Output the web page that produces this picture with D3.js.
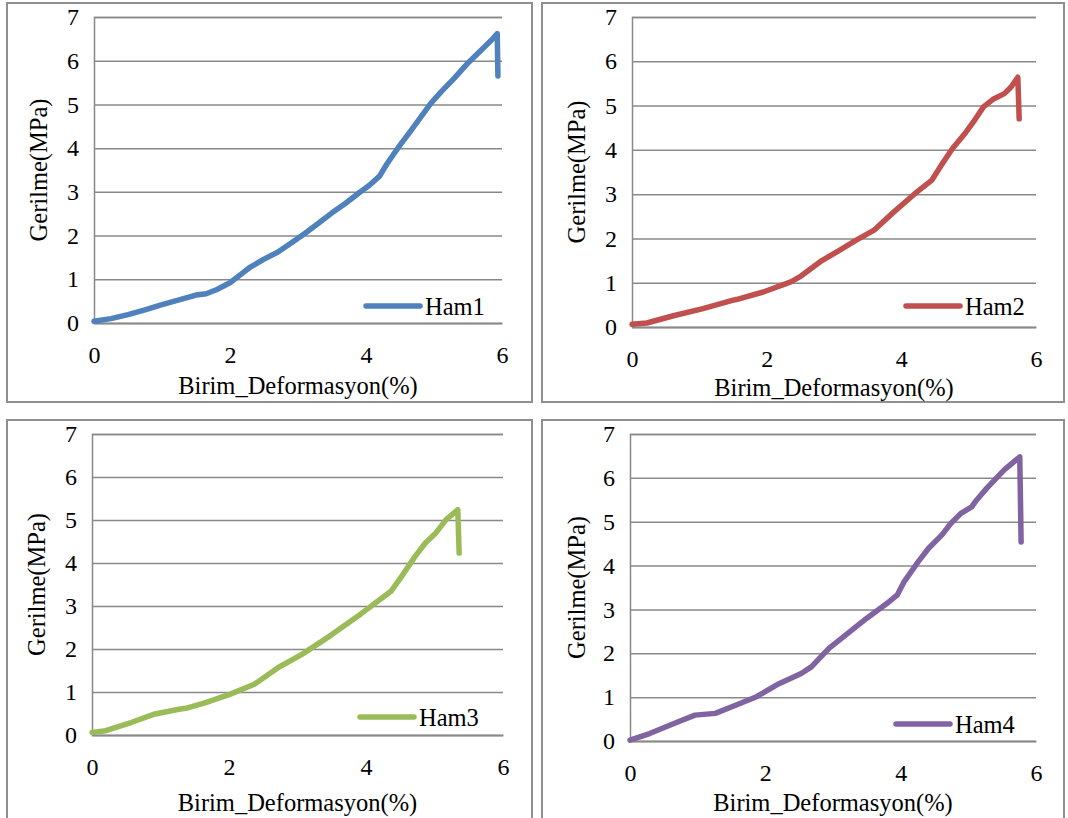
<!DOCTYPE html>
<html>
<head>
<meta charset="utf-8">
<script src="https://cdn.jsdelivr.net/npm/d3@7"></script>
<style>
  html, body { margin: 0; padding: 0; background: #ffffff; }
  svg { display: block; }
  text { font-family: "Liberation Serif", "DejaVu Serif", serif; fill: #000; }
</style>
</head>
<body>
<svg id="chart" width="1068" height="818"></svg>
<script>
// ---------- DATA ----------
const xTicks = [0, 2, 4, 6];
const yTicks = [0, 1, 2, 3, 4, 5, 6, 7];
const xTitle = "Birim_Deformasyon(%)";
const yTitle = "Gerilme(MPa)";
const seriesNames = ["Ham1", "Ham2", "Ham3", "Ham4"];
const seriesColors = ["#4F81BD", "#C0504D", "#9BBB59", "#8064A2"];

const ham1Strain = [0, 0.25, 0.5, 0.75, 1.0, 1.25, 1.5, 1.65, 1.8, 2.0, 2.15, 2.3, 2.5, 2.7, 2.9, 3.1, 3.3, 3.5, 3.7, 3.9, 4.05, 4.2, 4.3, 4.4, 4.5, 4.65, 4.8, 4.95, 5.1, 5.3, 5.5, 5.7, 5.85, 5.93, 5.94];
const ham1Stress = [0.04, 0.1, 0.19, 0.3, 0.42, 0.53, 0.64, 0.67, 0.76, 0.92, 1.1, 1.28, 1.46, 1.62, 1.83, 2.05, 2.28, 2.52, 2.74, 2.98, 3.15, 3.36, 3.62, 3.85, 4.07, 4.38, 4.7, 5.02, 5.28, 5.6, 5.95, 6.25, 6.48, 6.62, 5.65];

const ham2Strain = [0, 0.22, 0.63, 1.04, 1.49, 1.55, 1.95, 2.36, 2.49, 2.82, 3.08, 3.33, 3.59, 3.89, 4.2, 4.45, 4.61, 4.76, 4.96, 5.07, 5.22, 5.37, 5.53, 5.63, 5.73, 5.75];
const ham2Stress = [0.06, 0.09, 0.26, 0.41, 0.6, 0.62, 0.79, 1.02, 1.13, 1.5, 1.73, 1.96, 2.18, 2.6, 3.01, 3.31, 3.69, 4.03, 4.4, 4.63, 4.97, 5.15, 5.27, 5.42, 5.64, 4.7];

const ham3Strain = [0, 0.2, 0.57, 0.92, 1.27, 1.37, 1.67, 2.02, 2.37, 2.72, 3.07, 3.47, 3.92, 4.17, 4.37, 4.52, 4.72, 4.87, 5.02, 5.17, 5.34, 5.36];
const ham3Stress = [0.06, 0.1, 0.29, 0.49, 0.6, 0.62, 0.76, 0.95, 1.18, 1.57, 1.88, 2.3, 2.81, 3.11, 3.35, 3.69, 4.16, 4.47, 4.7, 5.01, 5.24, 4.23];

const ham4Strain = [0, 0.29, 0.65, 0.96, 1.26, 1.57, 1.87, 2.17, 2.53, 2.68, 2.94, 3.19, 3.5, 3.8, 3.95, 4.05, 4.26, 4.41, 4.61, 4.74, 4.89, 5.05, 5.12, 5.27, 5.53, 5.76, 5.78];
const ham4Stress = [0.02, 0.17, 0.4, 0.59, 0.63, 0.82, 1.01, 1.28, 1.54, 1.69, 2.11, 2.42, 2.8, 3.14, 3.33, 3.63, 4.09, 4.39, 4.7, 4.96, 5.19, 5.34, 5.49, 5.76, 6.18, 6.48, 4.54];

const seriesStrain = [ham1Strain, ham2Strain, ham3Strain, ham4Strain];
const seriesStress = [ham1Stress, ham2Stress, ham3Stress, ham4Stress];

// ---------- LAYOUT ----------
const panels = [
  { border: [7, 3, 525, 399],   plot: [94, 502, 17, 323],  legY: 306, legX: 366, titleY: 385, yTitleX: 38 },
  { border: [542, 3, 522, 399], plot: [632, 1036, 17, 327], legY: 306, legX: 906, titleY: 387, yTitleX: 576 },
  { border: [7, 420, 525, 420], plot: [92, 503, 434, 735],  legY: 717, legX: 360, titleY: 802, yTitleX: 36 },
  { border: [542, 420, 522, 420], plot: [630, 1036, 434, 741], legY: 724, legX: 896, titleY: 802, yTitleX: 576 }
];

const svg = d3.select("#chart");
const gridColor = "#898989";

panels.forEach((p, i) => {
  const [bx, by, bw, bh] = p.border;
  const [x0, x1, yT, yB] = p.plot;
  const g = svg.append("g");

  g.append("rect")
    .attr("x", bx).attr("y", by).attr("width", bw).attr("height", bh)
    .attr("fill", "#fff").attr("stroke", "#8f8f8f").attr("stroke-width", 2);

  const x = d3.scaleLinear().domain([0, 6]).range([x0, x1]);
  const y = d3.scaleLinear().domain([0, 7]).range([yB, yT]);

  // gridlines
  const yAxis = d3.axisLeft(y).tickValues(yTicks).tickSize(-(x1 - x0)).tickPadding(14).tickFormat(d3.format("d"));
  const ga = g.append("g").attr("transform", `translate(${x0},0)`).call(yAxis);
  ga.select(".domain").attr("stroke", gridColor).attr("stroke-width", 1.5);
  ga.selectAll(".tick line").attr("stroke", gridColor).attr("stroke-width", 1.5);
  ga.selectAll(".tick text").attr("x", -15).attr("font-size", 24)
    .attr("font-family", "Liberation Serif").attr("fill", "#000");

  const xAxis = d3.axisBottom(x).tickValues(xTicks).tickSize(0).tickPadding(0).tickFormat(d3.format("d"));
  const gx = g.append("g").attr("transform", `translate(0,${yB})`).call(xAxis);
  gx.select(".domain").attr("stroke", gridColor).attr("stroke-width", 1.5);
  gx.selectAll(".tick text").attr("y", 32).attr("dy", "0.35em").attr("font-size", 24)
    .attr("font-family", "Liberation Serif").attr("fill", "#000");

  // titles
  g.append("text").attr("x", (x0 + x1) / 2).attr("y", p.titleY).attr("dy", "0.35em")
    .attr("text-anchor", "middle").attr("font-size", 24.5).text(xTitle);
  g.append("text")
    .attr("transform", `translate(${p.yTitleX},${(yT + yB) / 2}) rotate(-90)`)
    .attr("dy", "0.35em").attr("text-anchor", "middle").attr("font-size", 24.5).text(yTitle);

  // data line
  const pts = seriesStrain[i].map((s, k) => [s, seriesStress[i][k]]);
  const line = d3.line().x(d => x(d[0])).y(d => y(d[1]));
  g.append("path").datum(pts).attr("d", line)
    .attr("fill", "none").attr("stroke", seriesColors[i]).attr("stroke-width", 5.5)
    .attr("stroke-linejoin", "round").attr("stroke-linecap", "round");

  // legend
  g.append("line").attr("x1", p.legX).attr("x2", p.legX + 54).attr("y1", p.legY).attr("y2", p.legY)
    .attr("stroke", seriesColors[i]).attr("stroke-width", 5.5).attr("stroke-linecap", "round");
  g.append("text").attr("x", p.legX + 59).attr("y", p.legY).attr("dy", "0.35em")
    .attr("font-size", 24.5).text(seriesNames[i]);
});
</script>
</body>
</html>
